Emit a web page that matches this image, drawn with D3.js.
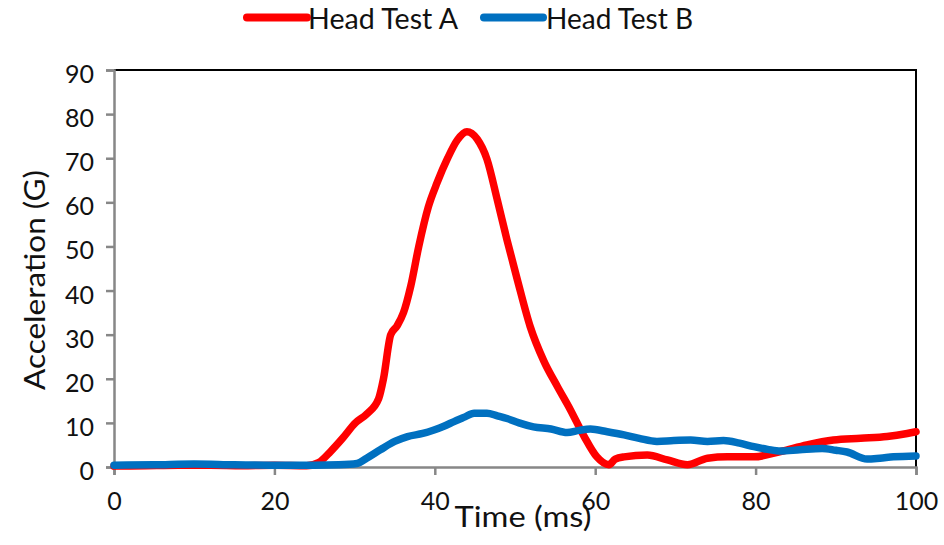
<!DOCTYPE html>
<html>
<head>
<meta charset="utf-8">
<script src="https://cdn.jsdelivr.net/npm/d3@7"></script>
<style>
  html, body { margin: 0; padding: 0; background: #fff; }
  svg { display: block; font-family: Lato, "Open Sans", sans-serif; }
</style>
</head>
<body>
<svg id="chart" width="944" height="545"></svg>
<script>
// Head acceleration traces (G) against time (ms)
const timeA = [0, 4, 8, 12, 16, 20, 24, 25.5, 27, 28.5, 30.1, 31.5, 33, 33.6, 34.5, 35.3, 36.1, 37, 38, 39.2,
  40.3, 41.6, 42.8, 44, 45.3, 46.5, 47.8, 49, 50.3, 51.9, 53.6, 55.3, 56.9, 58.6, 60.2, 61.7, 62.5,
  63.6, 66.5, 69, 71.5, 74, 76.5, 79.8, 83.1, 86.4, 89.7, 93.1, 96.4, 98.9, 100];
const headA = [0.2, 0.3, 0.4, 0.4, 0.3, 0.4, 0.3, 1.0, 3.5, 6.5, 10, 12, 15.5, 20, 30, 32, 35, 41, 50, 59,
  64.5, 70, 74.1, 76, 74.3, 69.8, 60.5, 51.5, 42.4, 31.8, 24, 18.2, 13, 7, 2.3, 0.5, 1.8,
  2.3, 2.7, 1.6, 0.5, 2.0, 2.3, 2.3, 3.5, 5.0, 6.1, 6.5, 6.9, 7.6, 8.0];

const timeB = [0, 5, 10, 15, 20, 25, 28, 30.3, 31.5, 33.2, 35, 36.6, 38.5, 39.9, 41.2, 42.4, 43.7, 44.9, 46.5,
  47.8, 49, 50.5, 52.3, 54.5, 56.5, 58, 59.4, 61.5, 63.6, 65.5, 67.7, 69.8, 71.9, 74, 76, 78, 79.8, 81.5,
  83.1, 85.5, 88.3, 90, 91.4, 93.9, 95.5, 97.2, 100];
const headB = [0.4, 0.5, 0.7, 0.5, 0.4, 0.4, 0.5, 0.8, 2, 3.9, 5.8, 6.9, 7.6, 8.4, 9.3, 10.3, 11.3, 12.2, 12.2,
  11.6, 11, 10, 9.1, 8.6, 7.8, 8.3, 8.6, 8, 7.3, 6.5, 5.8, 6, 6.1, 5.8, 6.0, 5.4, 4.6, 4.0,
  3.6, 3.9, 4.2, 3.8, 3.4, 1.8, 2.0, 2.3, 2.5];

const seriesNames = ["Head Test A", "Head Test B"];
const seriesColors = ["#ff0000", "#0070c0"];
const xTicks = [0, 20, 40, 60, 80, 100];
const yTicks = [0, 10, 20, 30, 40, 50, 60, 70, 80, 90];
const xTitle = "Time (ms)";
const yTitle = "Acceleration (G)";

const svg = d3.select("#chart");
const plot = { left: 114, right: 916, top: 70, bottom: 467 };

const x = d3.scaleLinear().domain([0, 100]).range([plot.left, plot.right]);
const y = d3.scaleLinear().domain([0, 90]).range([plot.bottom, plot.top]);

const axisGrey = "#878787";

// top and right frame
svg.append("path")
  .attr("d", `M${plot.left},${plot.top}H${plot.right}V${plot.bottom}`)
  .attr("fill", "none").attr("stroke", "#000").attr("stroke-width", 2);

// y axis
const yAxis = svg.append("g")
  .attr("transform", `translate(${plot.left},0)`)
  .call(d3.axisLeft(y).tickValues(yTicks).tickSize(8).tickPadding(12).tickFormat(d3.format("d")));
yAxis.select(".domain").attr("stroke", axisGrey).attr("stroke-width", 2.5);
yAxis.selectAll(".tick line").attr("stroke", axisGrey).attr("stroke-width", 2.5);
yAxis.selectAll(".tick text")
  .attr("font-family", "Lato, sans-serif").attr("font-size", 25).attr("fill", "#111")
  .attr("dy", "0.5em");

// x axis
const xAxis = svg.append("g")
  .attr("transform", `translate(0,${plot.bottom})`)
  .call(d3.axisBottom(x).tickValues(xTicks).tickSize(8).tickPadding(11).tickFormat(d3.format("d")));
xAxis.select(".domain").attr("stroke", axisGrey).attr("stroke-width", 2.5);
xAxis.selectAll(".tick line").attr("stroke", axisGrey).attr("stroke-width", 2.5);
xAxis.selectAll(".tick text")
  .attr("font-family", "Lato, sans-serif").attr("font-size", 25).attr("fill", "#111")
  .attr("dy", "0.95em");

// axis titles
svg.append("text")
  .attr("x", 523).attr("y", 527)
  .attr("text-anchor", "middle")
  .attr("font-size", 29).attr("fill", "#111")
  .attr("textLength", 137).attr("lengthAdjust", "spacingAndGlyphs")
  .text(xTitle);

svg.append("text")
  .attr("transform", "translate(45,280) rotate(-90)")
  .attr("text-anchor", "middle")
  .attr("font-size", 29).attr("fill", "#111")
  .attr("textLength", 220).attr("lengthAdjust", "spacingAndGlyphs")
  .text(yTitle);

// traces
const line = d3.line().x(d => x(d[0])).y(d => y(d[1])).curve(d3.curveMonotoneX);
const traces = [d3.zip(timeA, headA), d3.zip(timeB, headB)];
svg.append("g").selectAll("path")
  .data(traces)
  .join("path")
  .attr("d", line)
  .attr("fill", "none")
  .attr("stroke", (d, i) => seriesColors[i])
  .attr("stroke-width", 7.5)
  .attr("stroke-linejoin", "round")
  .attr("stroke-linecap", "round");

// legend
const legendItems = [
  { x0: 247, x1: 307, tx: 308, tw: 150 },
  { x0: 484, x1: 543, tx: 546, tw: 147 }
];
const legend = svg.append("g");
legendItems.forEach((item, i) => {
  legend.append("line")
    .attr("x1", item.x0).attr("x2", item.x1)
    .attr("y1", 17.5).attr("y2", 17.5)
    .attr("stroke", seriesColors[i]).attr("stroke-width", 8)
    .attr("stroke-linecap", "round");
  legend.append("text")
    .attr("x", item.tx).attr("y", 29)
    .attr("font-size", 28).attr("fill", "#111")
    .attr("textLength", item.tw).attr("lengthAdjust", "spacingAndGlyphs")
    .text(seriesNames[i]);
});
</script>
</body>
</html>
